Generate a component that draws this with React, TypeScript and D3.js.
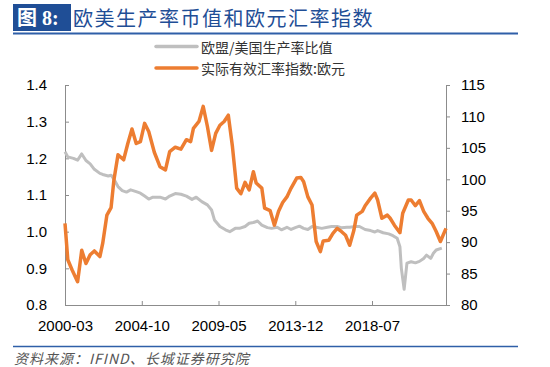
import React, { useEffect, useRef } from 'react'
import * as d3 from 'd3'

// 欧盟/美国生产率比值 (left axis)
const ratioDates = [
    '2000-03', '2000-05', '2000-09', '2000-12', '2001-03', '2001-06', '2001-09', '2001-12',
    '2002-04', '2002-06', '2002-10', '2002-12', '2003-02', '2003-05', '2003-08', '2003-11',
    '2004-02', '2004-06', '2004-09', '2004-12', '2005-03', '2005-06', '2005-11', '2006-03',
    '2006-06', '2006-10', '2007-02', '2007-06', '2007-10', '2008-01', '2008-05', '2008-09',
    '2008-12', '2009-02', '2009-06', '2009-10', '2010-01', '2010-05', '2010-08', '2010-12',
    '2011-03', '2011-06', '2011-09', '2011-12', '2012-04', '2012-07', '2012-11', '2013-02',
    '2013-06', '2013-09', '2013-12', '2014-03', '2014-06', '2014-09', '2014-12', '2015-03',
    '2015-07', '2015-11', '2016-02', '2016-06', '2016-09', '2017-01', '2017-03', '2017-07',
    '2017-10', '2018-02', '2018-06', '2018-09', '2018-11', '2019-03', '2019-07', '2019-10',
    '2020-01', '2020-03', '2020-04', '2020-06', '2020-08', '2020-11', '2021-02', '2021-05',
    '2021-08', '2021-10', '2022-01', '2022-03', '2022-05', '2022-09',
]
const ratioValues = [
    1.218, 1.204, 1.2, 1.195, 1.212, 1.194, 1.185, 1.17,
    1.159, 1.156, 1.152, 1.154, 1.143, 1.123, 1.112, 1.108,
    1.114, 1.109, 1.105, 1.097, 1.089, 1.094, 1.094, 1.089,
    1.097, 1.104, 1.102, 1.097, 1.088, 1.094, 1.082, 1.073,
    1.059, 1.032, 1.014, 1.005, 1.0, 1.009, 1.009, 1.014,
    1.023, 1.025, 1.029, 1.018, 1.011, 1.009, 1.012, 1.005,
    1.012, 1.006, 1.011, 1.015, 1.009, 1.006, 1.014, 1.012,
    1.009, 1.012, 1.014, 1.014, 1.011, 1.012, 1.012, 1.014,
    1.014, 1.006, 1.003, 0.999, 1.003, 0.997, 0.994, 0.989,
    0.982, 0.959, 0.9, 0.843, 0.914, 0.918, 0.915, 0.919,
    0.927, 0.936, 0.927, 0.941, 0.95, 0.955,
]

// 实际有效汇率指数:欧元 (right axis)
const fxDates = [
    '2000-03', '2000-05', '2000-08', '2000-12', '2001-03', '2001-06', '2001-09', '2001-12',
    '2002-04', '2002-06', '2002-09', '2002-12', '2003-02', '2003-05', '2003-09', '2003-12',
    '2004-03', '2004-06', '2004-09', '2004-12', '2005-03', '2005-07', '2005-11', '2006-03',
    '2006-06', '2006-10', '2007-02', '2007-06', '2007-09', '2007-11', '2008-03', '2008-06',
    '2008-09', '2008-12', '2009-03', '2009-06', '2009-09', '2009-12', '2010-03', '2010-06',
    '2010-09', '2010-12', '2011-03', '2011-06', '2011-08', '2011-12', '2012-02', '2012-06',
    '2012-09', '2012-12', '2013-03', '2013-06', '2013-09', '2014-01', '2014-04', '2014-06',
    '2014-09', '2014-12', '2015-03', '2015-06', '2015-08', '2015-12', '2016-03', '2016-06',
    '2016-09', '2016-12', '2017-03', '2017-06', '2017-08', '2017-12', '2018-02', '2018-06',
    '2018-09', '2018-11', '2019-02', '2019-06', '2019-08', '2019-11', '2020-03', '2020-05',
    '2020-09', '2020-11', '2021-02', '2021-05', '2021-08', '2021-11', '2022-02', '2022-05',
    '2022-08', '2022-12',
]
const fxValues = [
    93.0, 87.2, 85.6, 83.7, 88.7, 86.6, 88.0, 88.6,
    87.7, 89.8, 94.3, 95.5, 99.9, 103.9, 103.1, 105.7,
    108.0, 105.7, 106.0, 108.9, 107.6, 104.3, 102.0, 101.5,
    104.4, 105.1, 104.8, 106.3, 106.0, 108.1, 109.2, 111.6,
    108.4, 104.6, 107.3, 108.6, 109.2, 110.2, 105.2, 98.6,
    97.7, 99.5, 98.3, 101.2, 99.4, 98.6, 95.4, 95.0,
    92.7, 94.9, 96.3, 97.2, 98.6, 100.2, 100.3, 99.6,
    97.2, 95.9, 90.1, 88.5, 90.2, 90.3, 91.4, 92.2,
    91.7, 91.1, 89.5, 91.9, 94.3, 94.9, 95.8, 97.0,
    97.8, 96.7, 93.8, 94.3, 93.8, 92.7, 91.5, 94.6,
    96.7, 96.7, 95.8, 96.6, 94.9, 93.8, 93.0, 91.7,
    90.1, 92.2,
]

const xTickLabels = ['2000-03', '2004-10', '2009-05', '2013-12', '2018-07']
const leftTicks = [0.8, 0.9, 1.0, 1.1, 1.2, 1.3, 1.4]
const rightTicks = [80, 85, 90, 95, 100, 105, 110, 115]
const seriesNames = ['欧盟/美国生产率比值', '实际有效汇率指数:欧元']
const titleTag = '图 8:'
const titleText = '欧美生产率币值和欧元汇率指数'
const sourceText = '资料来源：IFIND、长城证券研究院'

export default function App() {
    const svgRef = useRef<SVGSVGElement>(null)

    useEffect(() => {
        const svg = d3.select(svgRef.current)
        svg.selectAll('*').remove()

        const left = 65
        const right = 446
        const top = 85
        const bottom = 305
        const axisColor = '#8c8c8c'
        const numFont = 'Liberation Sans, Arial, sans-serif'
        const cjkFont = 'Noto Sans CJK SC, sans-serif'
        const blue = '#1f4e96'

        const parse = d3.timeParse('%Y-%m')
        const x = d3
            .scaleTime()
            .domain([parse('2000-03')!, parse('2022-12')!])
            .range([left, right])
        const yL = d3.scaleLinear().domain([0.8, 1.4]).range([bottom, top])
        const yR = d3.scaleLinear().domain([80, 115]).range([bottom, top])

        // title
        svg.append('rect')
            .attr('x', 13)
            .attr('y', 4)
            .attr('width', 58)
            .attr('height', 27)
            .attr('fill', blue)
        svg.append('text')
            .attr('x', 17)
            .attr('y', 25)
            .attr('fill', '#fff')
            .attr('font-family', 'Liberation Serif, Noto Sans CJK SC, serif')
            .attr('font-weight', 'bold')
            .attr('font-size', 20)
            .text(titleTag)
        svg.append('text')
            .attr('x', 73)
            .attr('y', 26)
            .attr('fill', blue)
            .attr('font-family', cjkFont)
            .attr('font-size', 20)
            .attr('letter-spacing', 1.5)
            .text(titleText)
        svg.append('line')
            .attr('x1', 13)
            .attr('x2', 518)
            .attr('y1', 33.5)
            .attr('y2', 33.5)
            .attr('stroke', '#2f5fa8')
            .attr('stroke-width', 2)

        // legend
        const colors = ['#bfbfbf', '#ed7d31']
        seriesNames.forEach((name, i) => {
            const ly = 46.5 + i * 21.5
            svg.append('line')
                .attr('x1', 156)
                .attr('x2', 197)
                .attr('y1', ly)
                .attr('y2', ly)
                .attr('stroke', colors[i])
                .attr('stroke-width', 3.5)
                .attr('stroke-linecap', 'round')
            svg.append('text')
                .attr('x', 201)
                .attr('y', ly)
                .attr('dominant-baseline', 'central')
                .attr('fill', '#333')
                .attr('font-family', cjkFont)
                .attr('font-size', 14)
                .text(name)
        })

        // axes
        const styleAxis = (g: any) => {
            g.select('.domain').attr('stroke', axisColor)
            g.selectAll('.tick line').attr('stroke', axisColor)
            g.selectAll('.tick text')
                .attr('fill', '#000')
                .attr('font-family', numFont)
                .attr('font-size', 15)
        }

        svg.append('g')
            .attr('transform', `translate(${left},0)`)
            .call(
                d3
                    .axisLeft(yL)
                    .tickValues(leftTicks)
                    .tickFormat(d3.format('.1f'))
                    .tickSizeInner(-4)
                    .tickSizeOuter(0)
                    .tickPadding(18)
            )
            .call(styleAxis)

        svg.append('g')
            .attr('transform', `translate(${right},0)`)
            .call(
                d3
                    .axisRight(yR)
                    .tickValues(rightTicks)
                    .tickFormat(d3.format('d'))
                    .tickSizeInner(4)
                    .tickSizeOuter(0)
                    .tickPadding(11)
            )
            .call(styleAxis)

        svg.append('g')
            .attr('transform', `translate(0,${bottom})`)
            .call(
                d3
                    .axisBottom(x)
                    .tickValues(xTickLabels.map((d) => parse(d)!))
                    .tickFormat(d3.timeFormat('%Y-%m') as any)
                    .tickSizeInner(-4)
                    .tickSizeOuter(0)
                    .tickPadding(15)
            )
            .call(styleAxis)

        // lines
        const ratioData = ratioDates.map((d, i) => ({ date: parse(d)!, value: ratioValues[i] }))
        const fxData = fxDates.map((d, i) => ({ date: parse(d)!, value: fxValues[i] }))

        svg.append('path')
            .datum(ratioData)
            .attr('fill', 'none')
            .attr('stroke', colors[0])
            .attr('stroke-width', 3)
            .attr('stroke-linejoin', 'round')
            .attr(
                'd',
                d3
                    .line<any>()
                    .x((d) => x(d.date))
                    .y((d) => yL(d.value))
            )

        svg.append('path')
            .datum(fxData)
            .attr('fill', 'none')
            .attr('stroke', colors[1])
            .attr('stroke-width', 3.5)
            .attr('stroke-linejoin', 'round')
            .attr(
                'd',
                d3
                    .line<any>()
                    .x((d) => x(d.date))
                    .y((d) => yR(d.value))
            )

        // source
        svg.append('line')
            .attr('x1', 13)
            .attr('x2', 518)
            .attr('y1', 346.5)
            .attr('y2', 346.5)
            .attr('stroke', '#2f5fa8')
            .attr('stroke-width', 1.5)
        svg.append('text')
            .attr('x', 14)
            .attr('y', 364)
            .attr('fill', '#555')
            .attr('font-family', cjkFont)
            .attr('font-style', 'italic')
            .attr('font-size', 14)
            .attr('letter-spacing', 1)
            .text(sourceText)
    }, [])

    return (
        <div style={{ position: 'absolute', left: 0, top: 0 }}>
            <svg ref={svgRef} width={550} height={367} style={{ display: 'block', background: '#fff' }} />
        </div>
    )
}
